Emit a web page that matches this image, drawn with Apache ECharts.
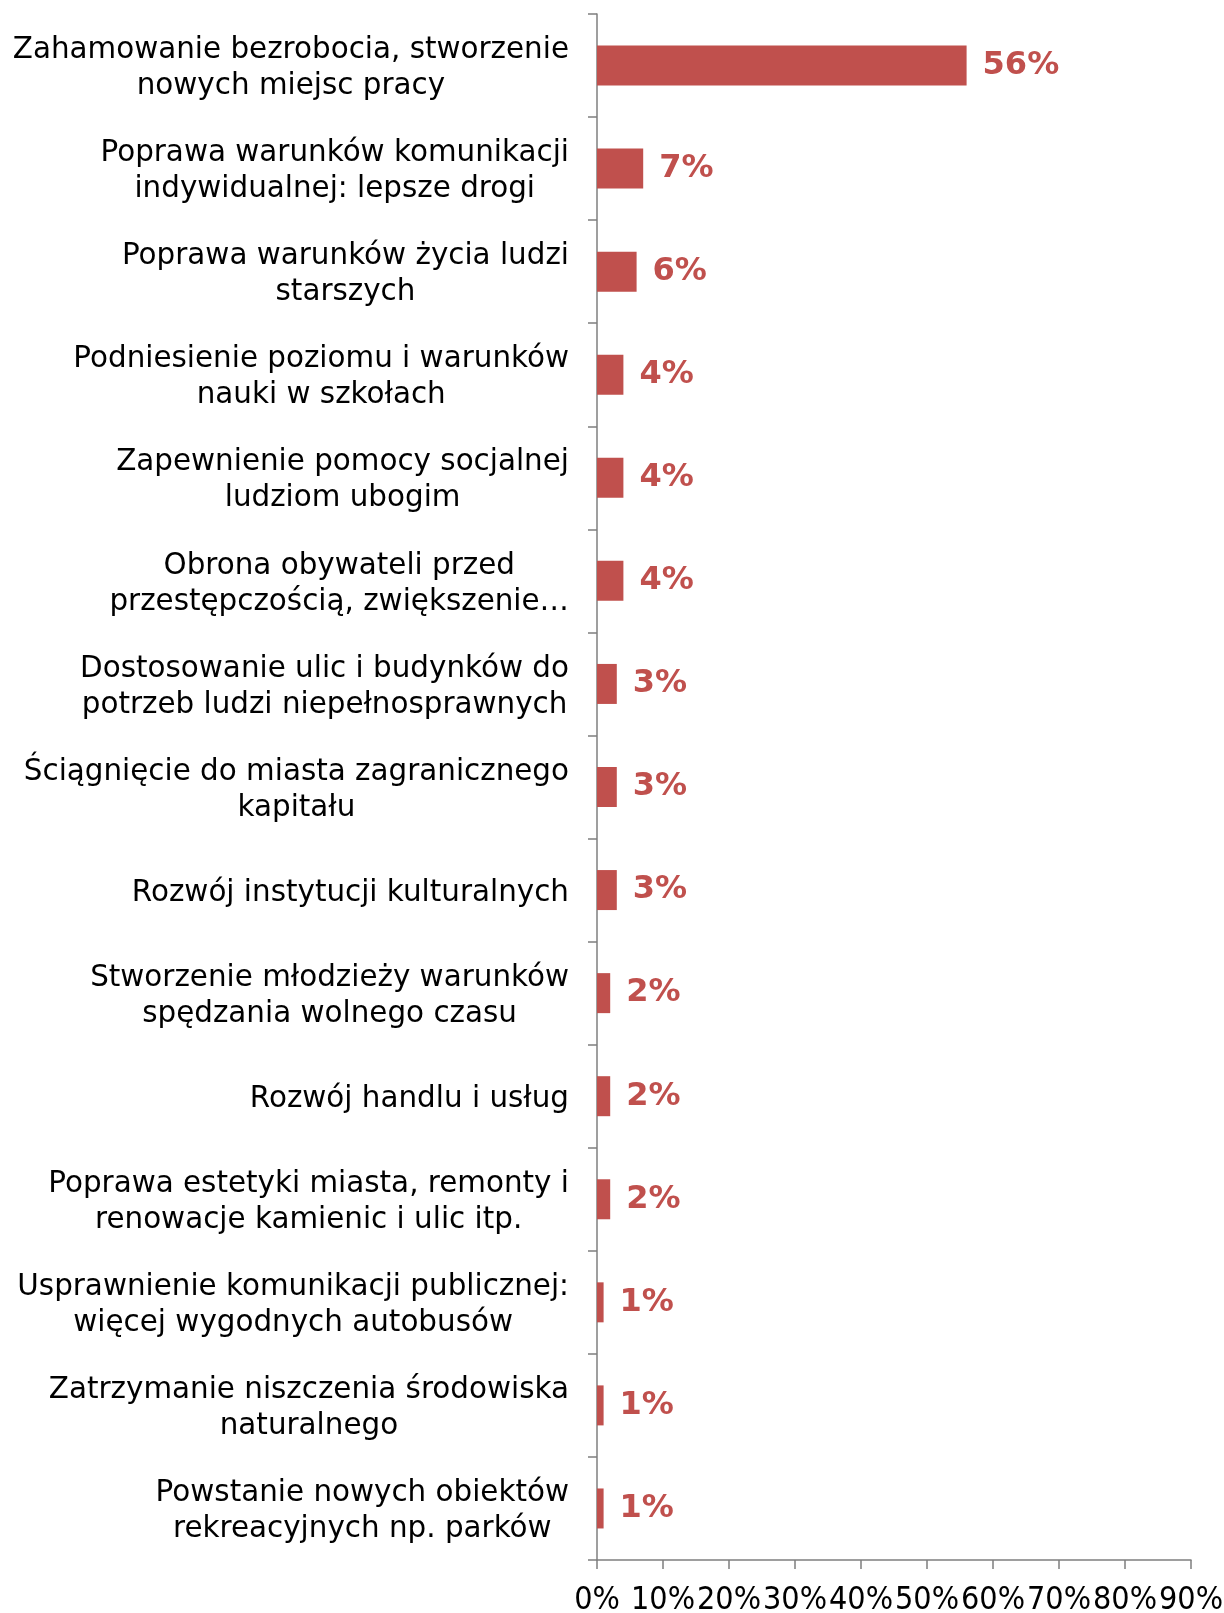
<!DOCTYPE html>
<html>
<head>
<meta charset="utf-8">
<script src="https://cdn.jsdelivr.net/npm/echarts@6/dist/echarts.min.js"></script>
<style>
  html, body { margin: 0; padding: 0; background: #ffffff; }
  #chart { width: 1224px; height: 1613px; }
</style>
</head>
<body>
<div id="chart"></div>
<script>
const categories = [
  'Zahamowanie bezrobocia, stworzenie\nnowych miejsc pracy',
  'Poprawa warunków komunikacji\nindywidualnej: lepsze drogi',
  'Poprawa warunków życia ludzi\nstarszych',
  'Podniesienie poziomu i warunków\nnauki w szkołach',
  'Zapewnienie pomocy socjalnej\nludziom ubogim',
  'Obrona obywateli przed\nprzestępczością, zwiększenie…',
  'Dostosowanie ulic i budynków do\npotrzeb ludzi niepełnosprawnych',
  'Ściągnięcie do miasta zagranicznego\nkapitału',
  'Rozwój instytucji kulturalnych',
  'Stworzenie młodzieży warunków\nspędzania wolnego czasu',
  'Rozwój handlu i usług',
  'Poprawa estetyki miasta, remonty i\nrenowacje kamienic i ulic itp.',
  'Usprawnienie komunikacji publicznej:\nwięcej wygodnych autobusów',
  'Zatrzymanie niszczenia środowiska\nnaturalnego',
  'Powstanie nowych obiektów\nrekreacyjnych np. parków'
];
const values = [56, 7, 6, 4, 4, 4, 3, 3, 3, 2, 2, 2, 1, 1, 1];
const xTicks = { min: 0, max: 90, interval: 10 };

const chart = echarts.init(document.getElementById('chart'), null, { renderer: 'canvas' });
const FONT = '"DejaVu Sans", Verdana, sans-serif';
const axisColor = '#7f7f7f';

chart.setOption({
  backgroundColor: '#ffffff',
  animation: false,
  grid: { left: 597, right: 33, top: 14, bottom: 53, containLabel: false, outerBoundsMode: 'none' },
  xAxis: {
    type: 'value',
    min: xTicks.min, max: xTicks.max, interval: xTicks.interval,
    splitLine: { show: false },
    axisLine: { show: true, lineStyle: { color: axisColor, width: 1.5 } },
    axisTick: { show: true, length: 9, lineStyle: { color: axisColor, width: 1.5 } },
    axisLabel: {
      formatter: '{value}%',
      color: '#000000',
      fontSize: 32,
      fontFamily: '"DejaVu Sans Condensed", "DejaVu Sans", sans-serif',
      margin: 25,
      hideOverlap: false,
      showMinLabel: true,
      showMaxLabel: true,
      interval: 0
    }
  },
  yAxis: {
    type: 'category',
    inverse: true,
    data: categories,
    axisLine: { show: true, lineStyle: { color: axisColor, width: 1.5 } },
    axisTick: { show: true, length: 9, lineStyle: { color: axisColor, width: 1.5 } },
    axisLabel: {
      interval: 0,
      margin: 28,
      color: '#000000',
      fontSize: 29.4,
      fontFamily: FONT,
      lineHeight: 36,
      padding: [6, 0, 0, 0],
      formatter: function (v) {
        return v.split('\n').map(function (l) { return '{c|' + l + '}'; }).join('\n');
      },
      rich: {
        c: { align: 'center', fontSize: 29.4, lineHeight: 36, color: '#000000', fontFamily: FONT }
      }
    }
  },
  series: [{
    type: 'bar',
    data: values,
    barWidth: 40,
    itemStyle: { color: '#C0504D' },
    label: {
      show: true,
      position: 'right',
      distance: 16,
      formatter: '{c}%',
      color: '#C0504D',
      fontWeight: 'bold',
      fontSize: 32,
      fontFamily: FONT,
      padding: [8, 0, 0, 0]
    }
  }]
});
</script>
</body>
</html>
